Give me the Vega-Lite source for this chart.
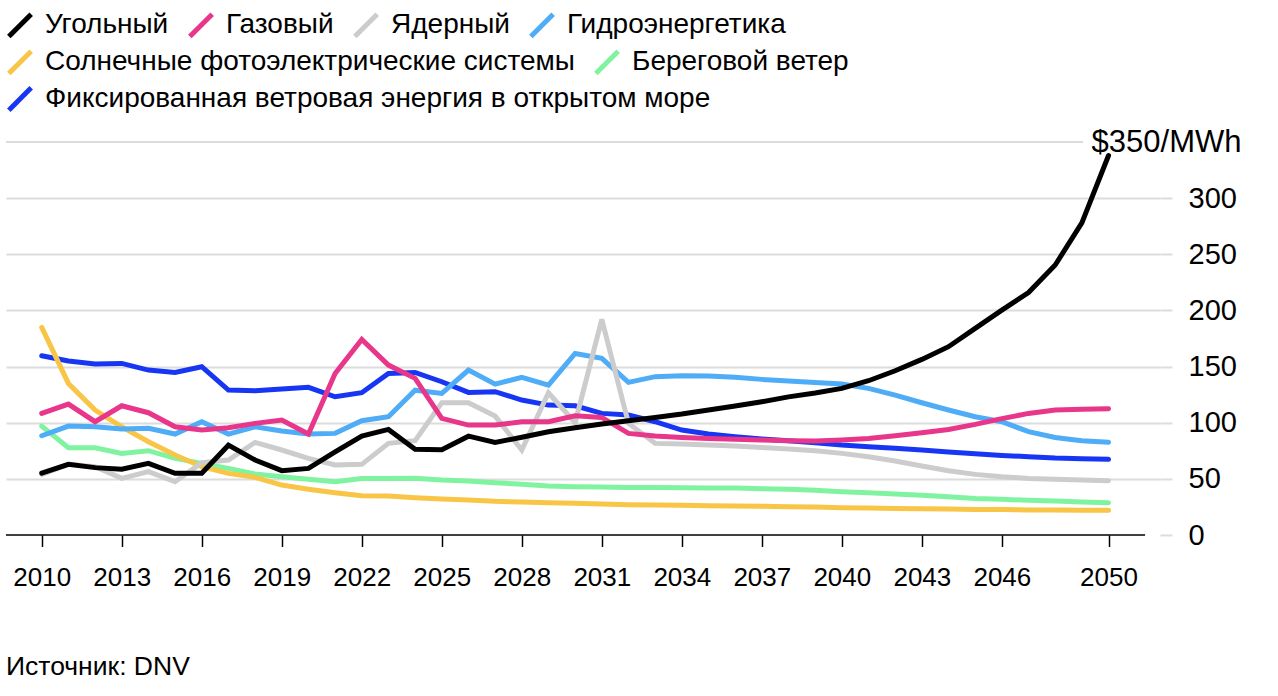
{
  "$schema": "https://vega.github.io/schema/vega-lite/v6.json",
  "width": 1154,
  "height": 393,
  "autosize": {"type": "none"},
  "padding": {"left": 6, "top": 142, "right": 118, "bottom": 161},
  "background": "white",
  "config": {
    "view": {"stroke": null},
    "font": "Liberation Sans",
    "legend": {
      "labelFont": "Liberation Sans",
      "labelFontSize": 28,
      "labelColor": "#000000",
      "labelLimit": 2000,
      "symbolType": "M-1,1L1,-1",
      "symbolSize": 500,
      "symbolStrokeWidth": 5,
      "labelOffset": 11,
      "columnPadding": 10,
      "padding": 0,
      "title": null,
      "direction": "horizontal",
      "orient": "none"
    }
  },
  "title": {
    "text": "Источник: DNV",
    "orient": "bottom",
    "anchor": "start",
    "frame": "group",
    "font": "Liberation Sans",
    "fontSize": 26.5,
    "fontWeight": "normal",
    "color": "#000000",
    "offset": 63
  },
  "data": {"values": [
    {"s":"Гидроэнергетика","year":2010,"v":88.4},{"s":"Гидроэнергетика","year":2011,"v":97},{"s":"Гидроэнергетика","year":2012,"v":96.4},{"s":"Гидроэнергетика","year":2013,"v":94.4},{"s":"Гидроэнергетика","year":2014,"v":95},{"s":"Гидроэнергетика","year":2015,"v":89.9},{"s":"Гидроэнергетика","year":2016,"v":100.9},{"s":"Гидроэнергетика","year":2017,"v":89.9},{"s":"Гидроэнергетика","year":2018,"v":96.4},{"s":"Гидроэнергетика","year":2019,"v":92.6},{"s":"Гидроэнергетика","year":2020,"v":89.9},{"s":"Гидроэнергетика","year":2021,"v":90.5},{"s":"Гидроэнергетика","year":2022,"v":101.8},{"s":"Гидроэнергетика","year":2023,"v":105.3},{"s":"Гидроэнергетика","year":2024,"v":129},{"s":"Гидроэнергетика","year":2025,"v":126.1},{"s":"Гидроэнергетика","year":2026,"v":146.9},{"s":"Гидроэнергетика","year":2027,"v":134.4},{"s":"Гидроэнергетика","year":2028,"v":140.4},{"s":"Гидроэнергетика","year":2029,"v":133.5},{"s":"Гидроэнергетика","year":2030,"v":161.7},{"s":"Гидроэнергетика","year":2031,"v":157.3},{"s":"Гидроэнергетика","year":2032,"v":135.9},{"s":"Гидроэнергетика","year":2033,"v":141},{"s":"Гидроэнергетика","year":2034,"v":141.8},{"s":"Гидроэнергетика","year":2035,"v":141.5},{"s":"Гидроэнергетика","year":2036,"v":140.4},{"s":"Гидроэнергетика","year":2037,"v":138.6},{"s":"Гидроэнергетика","year":2038,"v":137.1},{"s":"Гидроэнергетика","year":2039,"v":135.9},{"s":"Гидроэнергетика","year":2040,"v":134.4},{"s":"Гидроэнергетика","year":2041,"v":130.6},{"s":"Гидроэнергетика","year":2042,"v":124.6},{"s":"Гидроэнергетика","year":2043,"v":117.8},{"s":"Гидроэнергетика","year":2044,"v":111.3},{"s":"Гидроэнергетика","year":2045,"v":105.3},{"s":"Гидроэнергетика","year":2046,"v":100.9},{"s":"Гидроэнергетика","year":2047,"v":92},{"s":"Гидроэнергетика","year":2048,"v":86.9},{"s":"Гидроэнергетика","year":2049,"v":84},{"s":"Гидроэнергетика","year":2050,"v":82.5},
    {"s":"Ядерный","year":2010,"v":54},{"s":"Ядерный","year":2011,"v":62.9},{"s":"Ядерный","year":2012,"v":60.8},{"s":"Ядерный","year":2013,"v":50.4},{"s":"Ядерный","year":2014,"v":56.4},{"s":"Ядерный","year":2015,"v":47.5},{"s":"Ядерный","year":2016,"v":64.4},{"s":"Ядерный","year":2017,"v":66.8},{"s":"Ядерный","year":2018,"v":82.5},{"s":"Ядерный","year":2019,"v":75.7},{"s":"Ядерный","year":2020,"v":68.2},{"s":"Ядерный","year":2021,"v":62.3},{"s":"Ядерный","year":2022,"v":62.9},{"s":"Ядерный","year":2023,"v":81.6},{"s":"Ядерный","year":2024,"v":84},{"s":"Ядерный","year":2025,"v":117.8},{"s":"Ядерный","year":2026,"v":117.8},{"s":"Ядерный","year":2027,"v":105.9},{"s":"Ядерный","year":2028,"v":75.7},{"s":"Ядерный","year":2029,"v":126.7},{"s":"Ядерный","year":2030,"v":100},{"s":"Ядерный","year":2031,"v":192},{"s":"Ядерный","year":2032,"v":99.4},{"s":"Ядерный","year":2033,"v":81.6},{"s":"Ядерный","year":2034,"v":81},{"s":"Ядерный","year":2035,"v":80.1},{"s":"Ядерный","year":2036,"v":79.2},{"s":"Ядерный","year":2037,"v":78},{"s":"Ядерный","year":2038,"v":76.6},{"s":"Ядерный","year":2039,"v":75.1},{"s":"Ядерный","year":2040,"v":72.7},{"s":"Ядерный","year":2041,"v":69.7},{"s":"Ядерный","year":2042,"v":65.9},{"s":"Ядерный","year":2043,"v":61.4},{"s":"Ядерный","year":2044,"v":57.3},{"s":"Ядерный","year":2045,"v":54},{"s":"Ядерный","year":2046,"v":51.9},{"s":"Ядерный","year":2047,"v":50.4},{"s":"Ядерный","year":2048,"v":49.6},{"s":"Ядерный","year":2049,"v":49},{"s":"Ядерный","year":2050,"v":48.4},
    {"s":"Газовый","year":2010,"v":108.3},{"s":"Газовый","year":2011,"v":116.6},{"s":"Газовый","year":2012,"v":100.9},{"s":"Газовый","year":2013,"v":115.1},{"s":"Газовый","year":2014,"v":108.9},{"s":"Газовый","year":2015,"v":96.4},{"s":"Газовый","year":2016,"v":93.5},{"s":"Газовый","year":2017,"v":95.5},{"s":"Газовый","year":2018,"v":99.4},{"s":"Газовый","year":2019,"v":102.4},{"s":"Газовый","year":2020,"v":89.9},{"s":"Газовый","year":2021,"v":143.9},{"s":"Газовый","year":2022,"v":174.2},{"s":"Газовый","year":2023,"v":151.3},{"s":"Газовый","year":2024,"v":139.5},{"s":"Газовый","year":2025,"v":103.9},{"s":"Газовый","year":2026,"v":97.9},{"s":"Газовый","year":2027,"v":97.9},{"s":"Газовый","year":2028,"v":100.9},{"s":"Газовый","year":2029,"v":100.9},{"s":"Газовый","year":2030,"v":106.2},{"s":"Газовый","year":2031,"v":104.7},{"s":"Газовый","year":2032,"v":90.5},{"s":"Газовый","year":2033,"v":88.1},{"s":"Газовый","year":2034,"v":86.9},{"s":"Газовый","year":2035,"v":86},{"s":"Газовый","year":2036,"v":85.2},{"s":"Газовый","year":2037,"v":84.6},{"s":"Газовый","year":2038,"v":84},{"s":"Газовый","year":2039,"v":83.7},{"s":"Газовый","year":2040,"v":84.6},{"s":"Газовый","year":2041,"v":86},{"s":"Газовый","year":2042,"v":88.4},{"s":"Газовый","year":2043,"v":91.1},{"s":"Газовый","year":2044,"v":94},{"s":"Газовый","year":2045,"v":98.5},{"s":"Газовый","year":2046,"v":103.6},{"s":"Газовый","year":2047,"v":108.3},{"s":"Газовый","year":2048,"v":111.3},{"s":"Газовый","year":2049,"v":111.9},{"s":"Газовый","year":2050,"v":112.5},
    {"s":"Угольный","year":2010,"v":55},{"s":"Угольный","year":2011,"v":63},{"s":"Угольный","year":2012,"v":60},{"s":"Угольный","year":2013,"v":58.5},{"s":"Угольный","year":2014,"v":63.8},{"s":"Угольный","year":2015,"v":55},{"s":"Угольный","year":2016,"v":55},{"s":"Угольный","year":2017,"v":80},{"s":"Угольный","year":2018,"v":66.8},{"s":"Угольный","year":2019,"v":57.3},{"s":"Угольный","year":2020,"v":59.3},{"s":"Угольный","year":2021,"v":74},{"s":"Угольный","year":2022,"v":88},{"s":"Угольный","year":2023,"v":94},{"s":"Угольный","year":2024,"v":76.3},{"s":"Угольный","year":2025,"v":76},{"s":"Угольный","year":2026,"v":88},{"s":"Угольный","year":2027,"v":82.5},{"s":"Угольный","year":2028,"v":87},{"s":"Угольный","year":2029,"v":92},{"s":"Угольный","year":2030,"v":95.5},{"s":"Угольный","year":2031,"v":98.8},{"s":"Угольный","year":2032,"v":101.8},{"s":"Угольный","year":2033,"v":104.7},{"s":"Угольный","year":2034,"v":107.7},{"s":"Угольный","year":2035,"v":111.3},{"s":"Угольный","year":2036,"v":114.8},{"s":"Угольный","year":2037,"v":118.7},{"s":"Угольный","year":2038,"v":123},{"s":"Угольный","year":2039,"v":126.5},{"s":"Угольный","year":2040,"v":130.6},{"s":"Угольный","year":2041,"v":137.4},{"s":"Угольный","year":2042,"v":146.3},{"s":"Угольный","year":2043,"v":156.4},{"s":"Угольный","year":2044,"v":167.7},{"s":"Угольный","year":2045,"v":184},{"s":"Угольный","year":2046,"v":200.3},{"s":"Угольный","year":2047,"v":216},{"s":"Угольный","year":2048,"v":240.4},{"s":"Угольный","year":2049,"v":278},{"s":"Угольный","year":2050,"v":338},
    {"s":"Береговой ветер","year":2010,"v":97},{"s":"Береговой ветер","year":2011,"v":77.7},{"s":"Береговой ветер","year":2012,"v":77.7},{"s":"Береговой ветер","year":2013,"v":72.7},{"s":"Береговой ветер","year":2014,"v":75.1},{"s":"Береговой ветер","year":2015,"v":68.2},{"s":"Береговой ветер","year":2016,"v":63.8},{"s":"Береговой ветер","year":2017,"v":59.3},{"s":"Береговой ветер","year":2018,"v":54.3},{"s":"Береговой ветер","year":2019,"v":51.9},{"s":"Береговой ветер","year":2020,"v":49.6},{"s":"Береговой ветер","year":2021,"v":47.5},{"s":"Береговой ветер","year":2022,"v":50.4},{"s":"Береговой ветер","year":2023,"v":50.4},{"s":"Береговой ветер","year":2024,"v":50.5},{"s":"Береговой ветер","year":2025,"v":49},{"s":"Береговой ветер","year":2026,"v":48.1},{"s":"Береговой ветер","year":2027,"v":46.6},{"s":"Береговой ветер","year":2028,"v":45.1},{"s":"Береговой ветер","year":2029,"v":43.6},{"s":"Береговой ветер","year":2030,"v":43},{"s":"Береговой ветер","year":2031,"v":42.7},{"s":"Береговой ветер","year":2032,"v":42.4},{"s":"Береговой ветер","year":2033,"v":42.4},{"s":"Береговой ветер","year":2034,"v":42.1},{"s":"Береговой ветер","year":2035,"v":41.8},{"s":"Береговой ветер","year":2036,"v":41.8},{"s":"Береговой ветер","year":2037,"v":41.2},{"s":"Береговой ветер","year":2038,"v":40.7},{"s":"Береговой ветер","year":2039,"v":39.8},{"s":"Береговой ветер","year":2040,"v":38.6},{"s":"Береговой ветер","year":2041,"v":37.7},{"s":"Береговой ветер","year":2042,"v":36.5},{"s":"Береговой ветер","year":2043,"v":35.3},{"s":"Береговой ветер","year":2044,"v":34.1},{"s":"Береговой ветер","year":2045,"v":32.6},{"s":"Береговой ветер","year":2046,"v":31.8},{"s":"Береговой ветер","year":2047,"v":30.9},{"s":"Береговой ветер","year":2048,"v":30.3},{"s":"Береговой ветер","year":2049,"v":29.4},{"s":"Береговой ветер","year":2050,"v":28.8},
    {"s":"Солнечные фотоэлектрические системы","year":2010,"v":184.9},{"s":"Солнечные фотоэлектрические системы","year":2011,"v":135},{"s":"Солнечные фотоэлектрические системы","year":2012,"v":111.3},{"s":"Солнечные фотоэлектрические системы","year":2013,"v":96.4},{"s":"Солнечные фотоэлектрические системы","year":2014,"v":83.1},{"s":"Солнечные фотоэлектрические системы","year":2015,"v":71.2},{"s":"Солнечные фотоэлектрические системы","year":2016,"v":60.8},{"s":"Солнечные фотоэлектрические системы","year":2017,"v":54.9},{"s":"Солнечные фотоэлектрические системы","year":2018,"v":51.3},{"s":"Солнечные фотоэлектрические системы","year":2019,"v":44.5},{"s":"Солнечные фотоэлектрические системы","year":2020,"v":40.7},{"s":"Солнечные фотоэлектрические системы","year":2021,"v":37.7},{"s":"Солнечные фотоэлектрические системы","year":2022,"v":35},{"s":"Солнечные фотоэлектрические системы","year":2023,"v":34.7},{"s":"Солнечные фотоэлектрические системы","year":2024,"v":33.2},{"s":"Солнечные фотоэлектрические системы","year":2025,"v":32},{"s":"Солнечные фотоэлектрические системы","year":2026,"v":31.2},{"s":"Солнечные фотоэлектрические системы","year":2027,"v":30},{"s":"Солнечные фотоэлектрические системы","year":2028,"v":29.4},{"s":"Солнечные фотоэлектрические системы","year":2029,"v":28.8},{"s":"Солнечные фотоэлектрические системы","year":2030,"v":28.2},{"s":"Солнечные фотоэлектрические системы","year":2031,"v":27.6},{"s":"Солнечные фотоэлектрические системы","year":2032,"v":27},{"s":"Солнечные фотоэлектрические системы","year":2033,"v":26.7},{"s":"Солнечные фотоэлектрические системы","year":2034,"v":26.4},{"s":"Солнечные фотоэлектрические системы","year":2035,"v":26.1},{"s":"Солнечные фотоэлектрические системы","year":2036,"v":25.8},{"s":"Солнечные фотоэлектрические системы","year":2037,"v":25.5},{"s":"Солнечные фотоэлектрические системы","year":2038,"v":25.2},{"s":"Солнечные фотоэлектрические системы","year":2039,"v":24.9},{"s":"Солнечные фотоэлектрические системы","year":2040,"v":24.3},{"s":"Солнечные фотоэлектрические системы","year":2041,"v":24},{"s":"Солнечные фотоэлектрические системы","year":2042,"v":23.7},{"s":"Солнечные фотоэлектрические системы","year":2043,"v":23.4},{"s":"Солнечные фотоэлектрические системы","year":2044,"v":23.1},{"s":"Солнечные фотоэлектрические системы","year":2045,"v":22.8},{"s":"Солнечные фотоэлектрические системы","year":2046,"v":22.6},{"s":"Солнечные фотоэлектрические системы","year":2047,"v":22.3},{"s":"Солнечные фотоэлектрические системы","year":2048,"v":22.3},{"s":"Солнечные фотоэлектрические системы","year":2049,"v":22},{"s":"Солнечные фотоэлектрические системы","year":2050,"v":22},
    {"s":"Фиксированная ветровая энергия в открытом море","year":2010,"v":159.6},{"s":"Фиксированная ветровая энергия в открытом море","year":2011,"v":154.9},{"s":"Фиксированная ветровая энергия в открытом море","year":2012,"v":152.2},{"s":"Фиксированная ветровая энергия в открытом море","year":2013,"v":152.8},{"s":"Фиксированная ветровая энергия в открытом море","year":2014,"v":146.9},{"s":"Фиксированная ветровая энергия в открытом море","year":2015,"v":144.8},{"s":"Фиксированная ветровая энергия в открытом море","year":2016,"v":149.9},{"s":"Фиксированная ветровая энергия в открытом море","year":2017,"v":129.1},{"s":"Фиксированная ветровая энергия в открытом море","year":2018,"v":128.5},{"s":"Фиксированная ветровая энергия в открытом море","year":2019,"v":130},{"s":"Фиксированная ветровая энергия в открытом море","year":2020,"v":131.5},{"s":"Фиксированная ветровая энергия в открытом море","year":2021,"v":123.1},{"s":"Фиксированная ветровая энергия в открытом море","year":2022,"v":126.7},{"s":"Фиксированная ветровая энергия в открытом море","year":2023,"v":143.9},{"s":"Фиксированная ветровая энергия в открытом море","year":2024,"v":144.8},{"s":"Фиксированная ветровая энергия в открытом море","year":2025,"v":136.5},{"s":"Фиксированная ветровая энергия в открытом море","year":2026,"v":127},{"s":"Фиксированная ветровая энергия в открытом море","year":2027,"v":127.6},{"s":"Фиксированная ветровая энергия в открытом море","year":2028,"v":120.2},{"s":"Фиксированная ветровая энергия в открытом море","year":2029,"v":115.7},{"s":"Фиксированная ветровая энергия в открытом море","year":2030,"v":115.1},{"s":"Фиксированная ветровая энергия в открытом море","year":2031,"v":108.3},{"s":"Фиксированная ветровая энергия в открытом море","year":2032,"v":106.8},{"s":"Фиксированная ветровая энергия в открытом море","year":2033,"v":100.9},{"s":"Фиксированная ветровая энергия в открытом море","year":2034,"v":93.5},{"s":"Фиксированная ветровая энергия в открытом море","year":2035,"v":89.9},{"s":"Фиксированная ветровая энергия в открытом море","year":2036,"v":87.5},{"s":"Фиксированная ветровая энергия в открытом море","year":2037,"v":85.5},{"s":"Фиксированная ветровая энергия в открытом море","year":2038,"v":84},{"s":"Фиксированная ветровая энергия в открытом море","year":2039,"v":82.2},{"s":"Фиксированная ветровая энергия в открытом море","year":2040,"v":80.1},{"s":"Фиксированная ветровая энергия в открытом море","year":2041,"v":78.6},{"s":"Фиксированная ветровая энергия в открытом море","year":2042,"v":77.2},{"s":"Фиксированная ветровая энергия в открытом море","year":2043,"v":75.7},{"s":"Фиксированная ветровая энергия в открытом море","year":2044,"v":73.9},{"s":"Фиксированная ветровая энергия в открытом море","year":2045,"v":72.4},{"s":"Фиксированная ветровая энергия в открытом море","year":2046,"v":70.9},{"s":"Фиксированная ветровая энергия в открытом море","year":2047,"v":69.7},{"s":"Фиксированная ветровая энергия в открытом море","year":2048,"v":68.5},{"s":"Фиксированная ветровая энергия в открытом море","year":2049,"v":68},{"s":"Фиксированная ветровая энергия в открытом море","year":2050,"v":67.4}
  ]},
  "layer": [
    {
      "data": {"values": [{}]},
      "mark": {"type": "rule", "color": "#dcdcdc", "strokeWidth": 2},
      "encoding": {
        "y": {"datum": 350, "type": "quantitative"},
        "x": {"datum": 2008.66, "type": "quantitative"},
        "x2": {"datum": 2049.05}
      }
    },
    {
      "data": {"values": [{}]},
      "mark": {"type": "rule", "color": "#000000", "strokeWidth": 1.5},
      "encoding": {
        "y": {"datum": 0, "type": "quantitative"},
        "x": {"datum": 2008.66, "type": "quantitative"},
        "x2": {"datum": 2051.37}
      }
    },
    {
      "encoding": {
        "x": {
          "field": "year",
          "type": "quantitative",
          "scale": {"domain": [2008.66, 2051.93], "nice": false, "zero": false},
          "axis": {
            "title": null,
            "values": [2010, 2013, 2016, 2019, 2022, 2025, 2028, 2031, 2034, 2037, 2040, 2043, 2046, 2050],
            "format": "d",
            "domain": false,
            "grid": false,
            "ticks": true,
            "tickSize": 11.5,
            "tickWidth": 1.5,
            "tickColor": "#000000",
            "labelFont": "Liberation Sans",
            "labelFontSize": 26,
            "labelColor": "#000000",
            "labelPadding": 18,
            "labelOverlap": false,
            "labelFlush": false,
            "labelBound": false
          }
        },
        "y": {
          "field": "v",
          "type": "quantitative",
          "scale": {"domain": [0, 350], "nice": false},
          "axis": {
            "orient": "right",
            "title": null,
            "values": [0, 50, 100, 150, 200, 250, 300, 350],
            "domain": false,
            "tickSize": 12,
            "tickWidth": 2,
            "tickColor": {"condition": {"test": "datum.value == 350", "value": "transparent"}, "value": "#dcdcdc"},
            "grid": true,
            "gridWidth": 2,
            "gridColor": {"condition": {"test": "datum.value == 350 || datum.value == 0", "value": "transparent"}, "value": "#dcdcdc"},
            "labelExpr": "datum.value == 350 ? '$350/MWh' : datum.label",
            "labelAlign": {"condition": {"test": "datum.value == 350", "value": "right"}, "value": "left"},
            "labelPadding": {"condition": {"test": "datum.value == 350", "value": 69}, "value": 16},
            "labelFontSize": {"condition": {"test": "datum.value == 350", "value": 31}, "value": 29},
            "labelBaseline": "middle",
            "labelFont": "Liberation Sans",
            "labelColor": "#000000",
            "labelOverlap": false,
            "labelFlush": false,
            "labelBound": false
          }
        }
      },
      "layer": [
        {
          "transform": [{"filter": {"field": "s", "oneOf": ["Фиксированная ветровая энергия в открытом море"]}}],
          "mark": {"type": "line", "strokeWidth": 5, "strokeCap": "round"},
          "encoding": {
            "color": {
              "field": "s", "type": "nominal",
              "scale": {"domain": ["Фиксированная ветровая энергия в открытом море"], "range": ["#1736f4"]},
              "legend": {"orient": "none", "legendX": 0, "legendY": -57, "direction": "horizontal", "title": null}
            }
          }
        },
        {
          "transform": [{"filter": {"field": "s", "oneOf": ["Солнечные фотоэлектрические системы", "Береговой ветер"]}}],
          "mark": {"type": "line", "strokeWidth": 5, "strokeCap": "round"},
          "encoding": {
            "color": {
              "field": "s", "type": "nominal",
              "scale": {"domain": ["Солнечные фотоэлектрические системы", "Береговой ветер"], "range": ["#f8c546", "#80f3a0"]},
              "legend": {"orient": "none", "legendX": 0, "legendY": -94, "direction": "horizontal", "title": null}
            }
          }
        },
        {
          "transform": [{"filter": {"field": "s", "oneOf": ["Угольный", "Газовый", "Ядерный", "Гидроэнергетика"]}}],
          "mark": {"type": "line", "strokeWidth": 5, "strokeCap": "round"},
          "encoding": {
            "color": {
              "field": "s", "type": "nominal",
              "scale": {"domain": ["Угольный", "Газовый", "Ядерный", "Гидроэнергетика"], "range": ["#000000", "#e8368b", "#cccccc", "#4facf6"]},
              "legend": {"orient": "none", "legendX": 0, "legendY": -131, "direction": "horizontal", "title": null}
            }
          }
        }
      ],
      "resolve": {"scale": {"color": "independent"}}
    }
  ],
  "resolve": {"scale": {"color": "independent"}}
}
